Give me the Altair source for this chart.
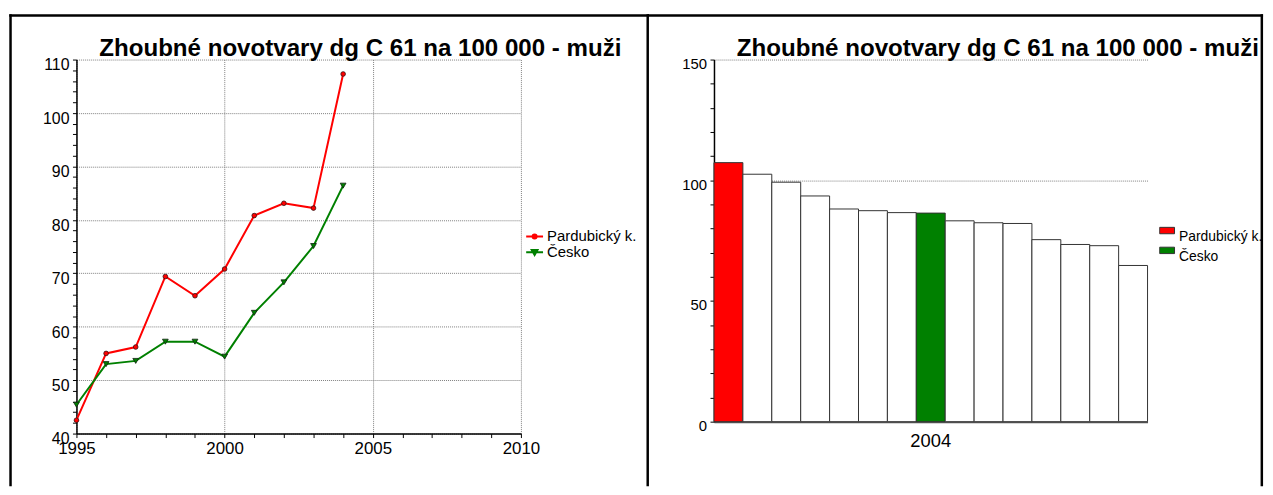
import altair as alt
import pandas as pd

# ---------------- data ----------------
roky = [1995, 1996, 1997, 1998, 1999, 2000, 2001, 2002, 2003, 2004]
pardubicky = [42.5, 55.0, 56.2, 69.4, 65.8, 70.8, 80.8, 83.1, 82.2, 107.3]
cesko = [45.4, 53.0, 53.6, 57.2, 57.2, 54.4, 62.6, 68.3, 75.1, 86.4]
serie = ["Pardubický k.", "Česko"]
barvy = ["#ff0000", "#008000"]

rok_sloupce = "2004"
hodnoty_2004 = [107.3, 102.5, 99.2, 93.5, 88.1, 87.4, 86.6, 86.4, 83.2, 82.4, 82.1, 75.4, 73.4, 72.9, 64.7]
typy_2004 = ["Pardubický k.", "ostatní", "ostatní", "ostatní", "ostatní", "ostatní", "ostatní",
             "Česko", "ostatní", "ostatní", "ostatní", "ostatní", "ostatní", "ostatní", "ostatní"]
typy_domena = ["Pardubický k.", "Česko", "ostatní"]
typy_barvy = ["#ff0000", "#008000", "#ffffff"]

titulek = "Zhoubné novotvary dg C 61 na 100 000 - muži"
x_ticky = list(range(1995, 2011))
y_ticky_l = list(range(40, 111, 2))
y_ticky_r = list(range(0, 151, 10))

FONT = "Liberation Sans"

df_line = pd.DataFrame({
    "rok": roky + roky,
    "hodnota": pardubicky + cesko,
    "serie": [serie[0]] * len(roky) + [serie[1]] * len(roky),
})
df_bar = pd.DataFrame({
    "rok": [rok_sloupce] * len(hodnoty_2004),
    "poradi": list(range(1, len(hodnoty_2004) + 1)),
    "hodnota": hodnoty_2004,
    "typ": typy_2004,
})
df_title = pd.DataFrame({"titulek": [titulek]})
df_one = pd.DataFrame({"k": [0]})


def grid_cond(m):
    return {"condition": {"test": f"datum.value % {m} === 0", "value": 1}, "value": 0}


common_axis = dict(
    title=None, labelFont=FONT, labelColor="black", tickColor="black", tickSize=4,
    tickWidth=1, domainColor="black", domainWidth=1.5, gridColor="#808080",
    gridDash=[1, 1], gridWidth=1, labelOverlap=False,
)


def title_mark():
    return alt.Chart(df_title).mark_text(
        align="left", baseline="alphabetic", font=FONT, fontSize=24.3, fontWeight="bold",
        color="black"
    ).encode(text="titulek:N", x=alt.value(23.0), y=alt.value(-3.4))


# ---------------- left panel ----------------
W_L, H_L = 448, 377
x_l = alt.X("rok:Q", scale=alt.Scale(domain=[1995, 2010], nice=False, zero=False),
            axis=alt.Axis(values=x_ticky, format="d", labelFlush=False,
                          labelExpr="datum.value % 5 === 0 ? datum.label : ''",
                          gridOpacity=grid_cond(5), labelFontSize=17, labelPadding=3,
                          **common_axis))
y_l = alt.Y("hodnota:Q", scale=alt.Scale(domain=[40, 110], nice=False, zero=False),
            axis=alt.Axis(values=y_ticky_l, labelExpr="datum.value % 10 === 0 ? datum.label : ''",
                          gridOpacity=grid_cond(10), labelFontSize=16, labelPadding=3.5,
                          labelBaseline="top", labelOffset=-2.5, labelFlush=False, **common_axis))
col_l = alt.Color("serie:N", scale=alt.Scale(domain=serie, range=barvy), legend=None)

base_l = alt.Chart(df_line)
lines = base_l.mark_line(strokeWidth=2).encode(x=x_l, y=y_l, color=col_l, detail="serie:N")
pts_red = base_l.transform_filter(alt.datum.serie == serie[0]).mark_point(
    shape="circle", filled=True, size=22, stroke="#331111", strokeWidth=0.8, opacity=1
).encode(x=x_l, y=y_l, color=col_l)
pts_green = base_l.transform_filter(alt.datum.serie == serie[1]).mark_point(
    shape="triangle-down", filled=True, size=34, stroke="#112211", strokeWidth=0.8, opacity=1
).encode(x=x_l, y=y_l, color=col_l)

LINE_CIRCLE = "M-1,0L1,0M0.24,0A0.24,0.24,0,1,1,-0.24,0A0.24,0.24,0,1,1,0.24,0Z"
LINE_TRI = "M-1,0L1,0M-0.34,-0.28L0.34,-0.28L0,0.32Z"
leg_l = alt.Legend(title=None, orient="none", legendX=452.3, legendY=171.6, padding=0,
                   symbolSize=289, symbolStrokeWidth=2, labelFont=FONT, labelFontSize=15,
                   labelColor="black", labelOffset=3, rowPadding=0, clipHeight=13.3,
                   labelBaseline="middle")
legend_layer = base_l.transform_filter("false").mark_point(filled=False, opacity=1).encode(
    shape=alt.Shape("serie:N", scale=alt.Scale(domain=serie, range=[LINE_CIRCLE, LINE_TRI]), legend=leg_l),
    fill=alt.Fill("serie:N", scale=alt.Scale(domain=serie, range=barvy), legend=leg_l),
    stroke=alt.Stroke("serie:N", scale=alt.Scale(domain=serie, range=barvy), legend=leg_l),
)

FR = 2.5
fr_l = alt.Chart(df_one)
frame_l = [
    fr_l.mark_rule(color="black", strokeWidth=FR).encode(
        x=alt.value(-66.45), y=alt.value(-45.65), y2=alt.value(430)),
    fr_l.mark_rule(color="black", strokeWidth=FR).encode(
        x=alt.value(-67.7), x2=alt.value(577.05), y=alt.value(-44.4)),
    fr_l.mark_rule(color="black", strokeWidth=FR).encode(
        x=alt.value(575.8), y=alt.value(-45.65), y2=alt.value(430)),
]

left = alt.layer(lines, pts_red, pts_green, legend_layer, title_mark(), *frame_l).properties(
    width=W_L, height=H_L)

# ---------------- right panel ----------------
W_R, H_R = 437, 365
x_r = alt.X("rok:N", scale=alt.Scale(paddingInner=0, paddingOuter=0),
            axis=alt.Axis(title=None, ticks=False, labelAngle=0, labelPadding=10, labelFont=FONT,
                          labelFontSize=18.5, labelColor="black", domainColor="#555555",
                          domainWidth=2, grid=False))
xo_r = alt.XOffset("poradi:O", scale=alt.Scale(paddingInner=0, paddingOuter=0))
y_r = alt.Y("hodnota:Q", scale=alt.Scale(domain=[0, 150], nice=False),
            axis=alt.Axis(values=y_ticky_r, labelExpr="datum.value % 50 === 0 ? datum.label : ''",
                          gridOpacity=grid_cond(50), labelFontSize=15, labelPadding=3.5,
                          labelBaseline="top", labelOffset=-3, labelFlush=False, **common_axis))
RECT_PATH = "M-1,-0.43L1,-0.43L1,0.43L-1,0.43Z"
leg_r = alt.Legend(title=None, values=serie, orient="none", legendX=448.7, legendY=167.2, padding=0,
                   symbolType=RECT_PATH, symbolSize=225, symbolStrokeColor="#333333",
                   symbolStrokeWidth=1, labelFont=FONT, labelFontSize=14, labelColor="black",
                   labelOffset=4, rowPadding=0, clipHeight=10.3, labelBaseline="top")
bars = alt.Chart(df_bar).mark_bar(stroke="#333333", strokeWidth=1, opacity=1).encode(
    x=x_r, xOffset=xo_r, y=y_r,
    color=alt.Color("typ:N", scale=alt.Scale(domain=typy_domena, range=typy_barvy), legend=leg_r),
)
fr_r = alt.Chart(df_one)
frame_r = [
    fr_r.mark_rule(color="black", strokeWidth=FR).encode(
        x=alt.value(-66.8), x2=alt.value(553.45), y=alt.value(-44.4)),
    fr_r.mark_rule(color="black", strokeWidth=FR).encode(
        x=alt.value(552.2), y=alt.value(-45.65), y2=alt.value(430)),
]
right = alt.layer(bars, title_mark(), *frame_r).properties(width=W_R, height=H_R)

chart = alt.hconcat(left, right, spacing=194.6, bounds="flush").resolve_scale(
    color="independent"
).resolve_legend(
    color="independent"
).properties(
    padding={"left": 0, "top": 3.05, "right": 0, "bottom": 0}
).configure_view(stroke=None)

chart.save("out.html", embed_options={"renderer": "svg", "actions": False})
